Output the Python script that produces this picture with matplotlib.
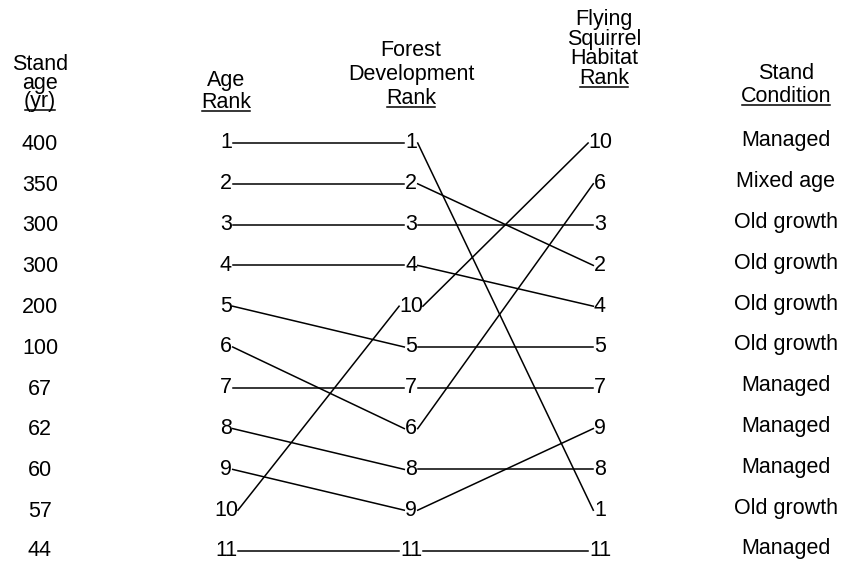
import matplotlib
matplotlib.use("Agg")
import matplotlib.pyplot as plt

plt.rcParams['font.family'] = ['Liberation Sans', 'DejaVu Sans']

# one entry per stand, listed by age rank
stand_age = [400, 350, 300, 300, 200, 100, 67, 62, 60, 57, 44]
age_rank = [1, 2, 3, 4, 5, 6, 7, 8, 9, 10, 11]
# stands (labelled by age rank) in order of forest development rank
forest_order = [1, 2, 3, 4, 10, 5, 7, 6, 8, 9, 11]
# stands (labelled by age rank) in order of flying squirrel habitat rank
squirrel_order = [10, 6, 3, 2, 4, 5, 7, 9, 8, 1, 11]
condition = ['Managed', 'Mixed age', 'Old growth', 'Old growth', 'Old growth',
             'Old growth', 'Managed', 'Managed', 'Managed', 'Old growth', 'Managed']

FS = 15.5
AGE_X, RANK_X, FOREST_X, SQ_X, COND_X = 40, 226, 411, 600, 786
ROW0, STEP = 143.0, 40.8  # pixel position of row 1 and row spacing


def row(px):
    # pixel height -> row units
    return 1 + (px - ROW0) / STEP


def half(n):
    # half width of a rank label plus a small gap
    return len(str(n)) * 5.2 + 1.5


fig = plt.figure(figsize=(8.46, 5.61), dpi=100)
ax = fig.add_axes([0, 0, 1, 1])
ax.set_xlim(0, 846)
ax.set_ylim(row(561), row(0))
ax.axis('off')

for i in range(len(age_rank)):
    r = i + 1
    ax.text(AGE_X, r + (0.03 if i < 10 else 0), str(stand_age[i]),
            ha='center', va='center', fontsize=FS)
    ax.text(RANK_X, r, str(age_rank[i]), ha='center', va='center', fontsize=FS)
    ax.text(FOREST_X, r, str(forest_order[i]), ha='center', va='center', fontsize=FS)
    ax.text(SQ_X, r, str(squirrel_order[i]), ha='center', va='center', fontsize=FS)
    ax.text(COND_X, r - 0.05, condition[i], ha='center', va='center', fontsize=FS)

for s in age_rank:
    y0 = s
    y1 = forest_order.index(s) + 1
    y2 = squirrel_order.index(s) + 1
    w = half(s)
    ax.plot([RANK_X + w, FOREST_X - w], [y0, y1], color='black', lw=1.1)
    ax.plot([FOREST_X + w, SQ_X - w], [y1, y2], color='black', lw=1.1)

# headers: x, lines, centre of first and last line (px), line spacing
headers = [
    (AGE_X, ['Stand', 'age', '(yr)'], 66, 100, 0.86),
    (RANK_X, ['Age', 'Rank'], 80, 103, 1.12),
    (FOREST_X, ['Forest', 'Development', 'Rank'], 50, 99, 1.18),
    (SQ_X + 4, ['Flying', 'Squirrel', 'Habitat', 'Rank'], 21, 77, 0.9),
    (COND_X, ['Stand', 'Condition'], 74, 96, 1.08),
]
fig.canvas.draw()
rend = fig.canvas.get_renderer()
inv = ax.transData.inverted()
for x, lines, top, bot, ls in headers:
    txt = ax.text(x, row((top + bot) / 2), '\n'.join(lines), ha='center',
                  va='center', fontsize=FS, linespacing=ls, multialignment='center')
    bb = txt.get_window_extent(renderer=rend)
    probe = ax.text(x, 0, lines[-1], ha='center', fontsize=FS)
    lw_px = probe.get_window_extent(renderer=rend).width
    probe.remove()
    cx = (bb.x0 + bb.x1) / 2
    (xa, ya), (xb, yb) = inv.transform([(cx - lw_px / 2 + 1, bb.y0 + 2),
                                        (cx + lw_px / 2 - 1, bb.y0 + 2)])
    ax.plot([xa, xb], [ya, yb], color='black', lw=1.1)

fig.savefig('out.png', dpi=100)
